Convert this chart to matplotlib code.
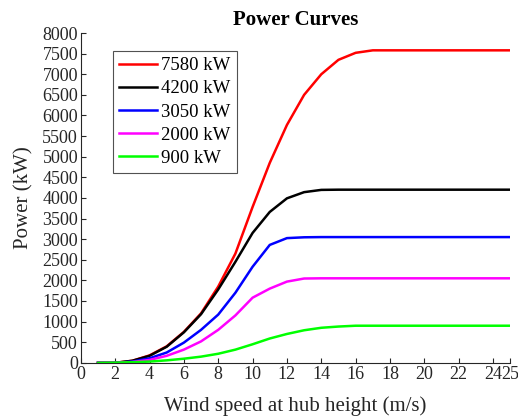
import numpy as np
import matplotlib
matplotlib.use("Agg")
import matplotlib.pyplot as plt

# Turbine power curves (power output vs wind speed at hub height)
wind = list(range(1, 26))

p7580 = [0, 0, 50, 180, 400, 750, 1200, 1850, 2650, 3780, 4850, 5770, 6500, 7000, 7350,
         7520, 7580, 7580, 7580, 7580, 7580, 7580, 7580, 7580, 7580]
p4200 = [0, 0, 50, 170, 390, 740, 1180, 1780, 2450, 3150, 3660, 3990, 4140, 4195, 4200,
         4200, 4200, 4200, 4200, 4200, 4200, 4200, 4200, 4200, 4200]
p3050 = [0, 0, 30, 110, 250, 490, 800, 1170, 1700, 2330, 2860, 3025, 3045, 3050, 3050,
         3050, 3050, 3050, 3050, 3050, 3050, 3050, 3050, 3050, 3050]
p2000 = [0, 0, 20, 70, 170, 320, 520, 800, 1150, 1580, 1800, 1970, 2045, 2050, 2050,
         2050, 2050, 2050, 2050, 2050, 2050, 2050, 2050, 2050, 2050]
p900 = [0, 5, 15, 30, 60, 100, 150, 220, 320, 450, 590, 700, 790, 850, 880,
        900, 900, 900, 900, 900, 900, 900, 900, 900, 900]

labels = ["7580 kW", "4200 kW", "3050 kW", "2000 kW", "900 kW"]
series = [p7580, p4200, p3050, p2000, p900]
colors = ["#ff0000", "#000000", "#0000ff", "#ff00ff", "#00ff00"]

xticks = [0, 2, 4, 6, 8, 10, 12, 14, 16, 18, 20, 22, 24, 25]
yticks = list(range(0, 8001, 500))

plt.rcParams['font.family'] = ['Liberation Serif', 'DejaVu Serif']
ink = '#262626'

fig = plt.figure(figsize=(5.18, 4.18), dpi=100)
ax = fig.add_axes([0.156, 0.132, 0.829, 0.789])

for y, c, lab in zip(series, colors, labels):
    ax.plot(wind, y, color=c, lw=1.8, label=lab)

ax.set_xlim(0, 25)
ax.set_ylim(0, 8000)
ax.set_xticks(xticks)
ax.set_yticks(yticks)
ax.set_xticklabels([str(t) for t in xticks])

for s in ['top', 'right']:
    ax.spines[s].set_visible(False)
for s in ['left', 'bottom']:
    ax.spines[s].set_color(ink)
    ax.spines[s].set_linewidth(0.8)
ax.tick_params(direction='in', length=3.8, width=0.8, colors=ink, labelsize=13, pad=2)

ax.set_xlabel('Wind speed at hub height (m/s)', fontsize=15, color=ink, labelpad=10)
ax.set_ylabel('Power (kW)', fontsize=15, color=ink, labelpad=6)
ax.set_title('Power Curves', fontsize=15, fontweight='bold', pad=6)

leg = ax.legend(loc='upper left', bbox_to_anchor=(0.074, 0.945), fontsize=13.5,
                frameon=True, fancybox=False, edgecolor=ink, handlelength=2.05,
                handletextpad=0.22, labelspacing=0.32, borderpad=0.32, borderaxespad=0)
leg.get_frame().set_linewidth(0.8)

fig.savefig('out.png', dpi=100)
